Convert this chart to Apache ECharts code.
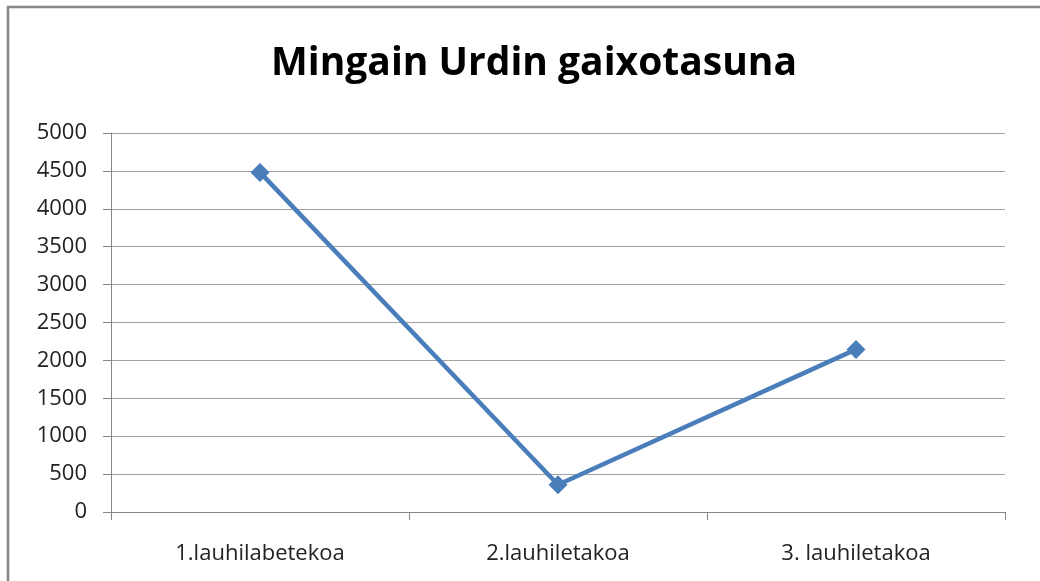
<!DOCTYPE html>
<html><head><meta charset="utf-8">
<script src="https://cdn.jsdelivr.net/npm/echarts@6/dist/echarts.min.js"></script>
<style>html,body{margin:0;padding:0;background:#fff}#c{width:1040px;height:581px}</style>
</head><body><div id="c"></div>
<script>
const titleText = 'Mingain Urdin gaixotasuna';
const categories = ['1.lauhilabetekoa', '2.lauhiletakoa', '3. lauhiletakoa'];
const values = [4480, 360, 2145];
const yMin = 0, yMax = 5000, yStep = 500;

const chart = echarts.init(document.getElementById('c'), null, {renderer: 'canvas'});
chart.setOption({
  animation: false,
  backgroundColor: '#fff',
  title: {
    text: titleText, left: 266, top: 39,
    textStyle: {fontFamily: 'Open Sans', fontWeight: 'bold', fontSize: 39, color: '#000'}
  },
  graphic: [{
    type: 'rect', shape: {x: 8, y: 7, width: 1200, height: 800},
    style: {fill: 'none', stroke: '#878787', lineWidth: 2.5}, silent: true, z: 100
  }],
  grid: {left: 111, right: 35, top: 133, bottom: 69, containLabel: false},
  xAxis: {
    type: 'category', data: categories, boundaryGap: true,
    axisLine: {lineStyle: {color: '#868686', width: 1}},
    axisTick: {show: true, length: 8, lineStyle: {color: '#868686'}},
    axisLabel: {margin: 31, fontFamily: 'Open Sans', fontSize: 22, color: '#222'}
  },
  yAxis: {
    type: 'value', min: yMin, max: yMax, interval: yStep,
    axisLine: {show: true, lineStyle: {color: '#868686', width: 1}},
    axisTick: {show: true, length: 8, lineStyle: {color: '#868686'}},
    splitLine: {lineStyle: {color: '#a0a0a0', width: 1}},
    axisLabel: {margin: 24, fontFamily: 'Open Sans', fontSize: 22, color: '#222', formatter: v => String(v)}
  },
  series: [{
    type: 'line', data: values,
    symbol: 'diamond', symbolSize: 19,
    lineStyle: {color: '#4a7ebb', width: 4.5},
    itemStyle: {color: '#4a7ebb'}
  }]
});
</script></body></html>
